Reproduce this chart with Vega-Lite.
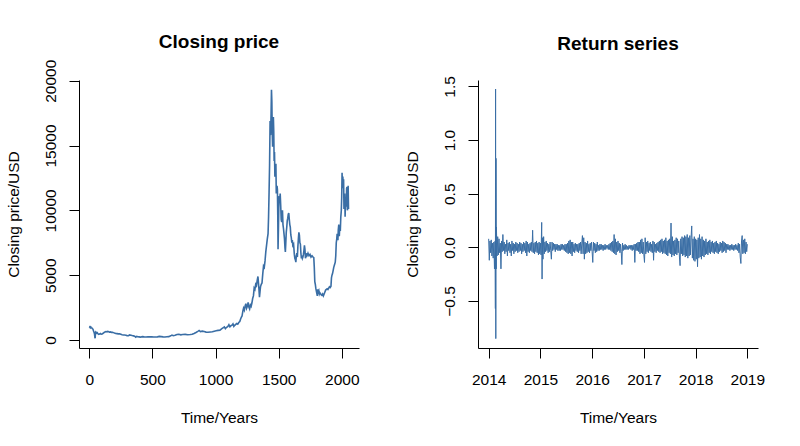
{
"$schema":"https://vega.github.io/schema/vega-lite/v6.json",
"background":"white",
"padding":{"left":6,"top":33,"right":5,"bottom":5},
"spacing":119,
"bounds":"flush",
"config":{
"view":{"stroke":null},
"font":"Liberation Sans",
"axis":{"grid":false,"domainColor":"#000","domainWidth":1,"tickColor":"#000","tickWidth":1,"tickSize":10,"labelColor":"#000","labelFont":"Liberation Sans","labelFontSize":15.5,"labelPadding":14,"labelFlush":false,"labelOverlap":false,"titleColor":"#000","titleFont":"Liberation Sans","titleFontSize":15.5,"titleFontWeight":"normal"},
"axisX":{"labelAngle":0,"labelBaseline":"top","labelAlign":"center","titleX":140,"titleY":74,"titleBaseline":"alphabetic","titleAlign":"center"},
"axisY":{"labelAngle":270,"labelAlign":"center","labelBaseline":"alphabetic","titleAngle":270,"titleX":-61,"titleY":134,"titleBaseline":"alphabetic","titleAlign":"center"},
"title":{"font":"Liberation Sans","fontSize":19,"fontWeight":"bold","color":"#000","baseline":"alphabetic","frame":"group","anchor":"middle"}
},
"datasets":{
"price":[
{"i":1,"p":950},{"i":4,"p":1000},{"i":8,"p":940},{"i":12,"p":1010},{"i":16,"p":960},{"i":20,"p":930},{"i":25,"p":880},{"i":30,"p":820},{"i":34,"p":700},{"i":38,"p":600},{"i":42,"p":450},{"i":45,"p":180},{"i":47,"p":140},{"i":49,"p":560},{"i":52,"p":620},{"i":56,"p":580},{"i":60,"p":520},{"i":64,"p":560},{"i":70,"p":470},{"i":76,"p":440},{"i":82,"p":460},{"i":88,"p":500},{"i":95,"p":450},{"i":102,"p":470},{"i":110,"p":520},{"i":118,"p":580},{"i":125,"p":620},{"i":132,"p":650},{"i":140,"p":630},{"i":147,"p":660},{"i":154,"p":640},{"i":160,"p":600},{"i":168,"p":620},{"i":176,"p":590},{"i":184,"p":600},{"i":192,"p":570},{"i":200,"p":530},{"i":210,"p":500},{"i":220,"p":490},{"i":230,"p":470},{"i":240,"p":480},{"i":250,"p":440},{"i":260,"p":400},{"i":270,"p":390},{"i":280,"p":380},{"i":290,"p":370},{"i":300,"p":340},{"i":310,"p":330},{"i":320,"p":390},{"i":330,"p":370},{"i":340,"p":340},{"i":350,"p":320},{"i":360,"p":300},{"i":368,"p":220},{"i":376,"p":280},{"i":385,"p":250},{"i":395,"p":240},{"i":405,"p":220},{"i":420,"p":260},{"i":435,"p":240},{"i":450,"p":230},{"i":465,"p":240},{"i":480,"p":250},{"i":495,"p":240},{"i":510,"p":230},{"i":525,"p":235},{"i":540,"p":240},{"i":555,"p":280},{"i":570,"p":260},{"i":585,"p":240},{"i":600,"p":230},{"i":615,"p":250},{"i":630,"p":260},{"i":645,"p":320},{"i":655,"p":380},{"i":665,"p":330},{"i":680,"p":360},{"i":695,"p":420},{"i":710,"p":440},{"i":725,"p":400},{"i":740,"p":420},{"i":760,"p":430},{"i":780,"p":410},{"i":800,"p":420},{"i":815,"p":440},{"i":830,"p":500},{"i":845,"p":580},{"i":860,"p":670},{"i":870,"p":740},{"i":880,"p":650},{"i":895,"p":680},{"i":910,"p":650},{"i":925,"p":610},{"i":940,"p":600},{"i":960,"p":620},{"i":975,"p":630},{"i":990,"p":680},{"i":1005,"p":710},{"i":1020,"p":740},{"i":1035,"p":760},{"i":1050,"p":880},{"i":1062,"p":960},{"i":1070,"p":1010},{"i":1078,"p":880},{"i":1088,"p":980},{"i":1098,"p":1050},{"i":1106,"p":1180},{"i":1114,"p":1020},{"i":1122,"p":1100},{"i":1130,"p":1140},{"i":1138,"p":1240},{"i":1145,"p":1050},{"i":1152,"p":1130},{"i":1160,"p":1200},{"i":1168,"p":1270},{"i":1176,"p":1220},{"i":1184,"p":1350},{"i":1192,"p":1420},{"i":1198,"p":1600},{"i":1204,"p":1750},{"i":1210,"p":1850},{"i":1216,"p":2200},{"i":1222,"p":2450},{"i":1228,"p":2300},{"i":1234,"p":2600},{"i":1240,"p":2800},{"i":1246,"p":2450},{"i":1252,"p":2600},{"i":1258,"p":2900},{"i":1264,"p":2550},{"i":1270,"p":2400},{"i":1276,"p":2700},{"i":1282,"p":2600},{"i":1288,"p":2850},{"i":1294,"p":3200},{"i":1300,"p":3400},{"i":1306,"p":4000},{"i":1312,"p":3900},{"i":1318,"p":4300},{"i":1324,"p":4200},{"i":1330,"p":4600},{"i":1336,"p":4900},{"i":1340,"p":4400},{"i":1344,"p":3900},{"i":1348,"p":3300},{"i":1352,"p":3700},{"i":1356,"p":4100},{"i":1362,"p":4300},{"i":1368,"p":4400},{"i":1374,"p":5100},{"i":1380,"p":5700},{"i":1386,"p":5600},{"i":1392,"p":6100},{"i":1398,"p":6800},{"i":1404,"p":7300},{"i":1410,"p":7800},{"i":1416,"p":8200},{"i":1420,"p":9500},{"i":1424,"p":11400},{"i":1428,"p":13500},{"i":1432,"p":16900},{"i":1436,"p":15800},{"i":1440,"p":17500},{"i":1443,"p":19300},{"i":1446,"p":18400},{"i":1449,"p":16000},{"i":1452,"p":14900},{"i":1455,"p":15900},{"i":1458,"p":17200},{"i":1461,"p":16100},{"i":1464,"p":13800},{"i":1467,"p":14500},{"i":1470,"p":12600},{"i":1474,"p":13300},{"i":1478,"p":13600},{"i":1481,"p":11300},{"i":1484,"p":11500},{"i":1487,"p":11900},{"i":1490,"p":11600},{"i":1493,"p":9500},{"i":1495,"p":7000},{"i":1498,"p":8500},{"i":1501,"p":10200},{"i":1504,"p":11100},{"i":1508,"p":10800},{"i":1512,"p":11300},{"i":1516,"p":10400},{"i":1520,"p":9300},{"i":1524,"p":9100},{"i":1527,"p":9900},{"i":1530,"p":10000},{"i":1534,"p":8900},{"i":1538,"p":8600},{"i":1542,"p":8200},{"i":1546,"p":7800},{"i":1550,"p":7100},{"i":1553,"p":6800},{"i":1556,"p":7400},{"i":1560,"p":8300},{"i":1564,"p":8700},{"i":1568,"p":9200},{"i":1572,"p":9400},{"i":1576,"p":9700},{"i":1580,"p":9800},{"i":1584,"p":9300},{"i":1588,"p":8900},{"i":1592,"p":8700},{"i":1596,"p":8100},{"i":1600,"p":7900},{"i":1604,"p":7500},{"i":1608,"p":7700},{"i":1612,"p":7300},{"i":1618,"p":7400},{"i":1624,"p":6600},{"i":1628,"p":6300},{"i":1632,"p":6200},{"i":1636,"p":6000},{"i":1640,"p":6500},{"i":1644,"p":6700},{"i":1648,"p":6400},{"i":1652,"p":7200},{"i":1656,"p":7800},{"i":1660,"p":8300},{"i":1664,"p":8100},{"i":1668,"p":7500},{"i":1672,"p":7400},{"i":1676,"p":6700},{"i":1680,"p":6300},{"i":1684,"p":6500},{"i":1688,"p":6300},{"i":1692,"p":6400},{"i":1696,"p":6600},{"i":1700,"p":6900},{"i":1704,"p":7300},{"i":1708,"p":7000},{"i":1712,"p":6300},{"i":1716,"p":6500},{"i":1720,"p":6400},{"i":1724,"p":6700},{"i":1728,"p":6600},{"i":1732,"p":6700},{"i":1740,"p":6500},{"i":1748,"p":6600},{"i":1756,"p":6400},{"i":1764,"p":6500},{"i":1772,"p":6400},{"i":1778,"p":6350},{"i":1782,"p":5600},{"i":1786,"p":4500},{"i":1790,"p":4300},{"i":1794,"p":4000},{"i":1798,"p":3800},{"i":1802,"p":3600},{"i":1806,"p":3400},{"i":1810,"p":3900},{"i":1814,"p":3700},{"i":1818,"p":3800},{"i":1822,"p":3550},{"i":1826,"p":3650},{"i":1830,"p":3600},{"i":1836,"p":3500},{"i":1842,"p":3450},{"i":1848,"p":3550},{"i":1854,"p":3400},{"i":1860,"p":3550},{"i":1866,"p":3700},{"i":1872,"p":3850},{"i":1878,"p":3900},{"i":1884,"p":3950},{"i":1890,"p":3900},{"i":1896,"p":4000},{"i":1902,"p":4100},{"i":1908,"p":4050},{"i":1914,"p":4150},{"i":1918,"p":4800},{"i":1922,"p":5000},{"i":1926,"p":5100},{"i":1930,"p":5300},{"i":1936,"p":5600},{"i":1942,"p":5800},{"i":1948,"p":6000},{"i":1952,"p":6500},{"i":1956,"p":7500},{"i":1960,"p":7800},{"i":1963,"p":8200},{"i":1966,"p":8000},{"i":1969,"p":7700},{"i":1972,"p":8500},{"i":1976,"p":8900},{"i":1980,"p":8000},{"i":1984,"p":8800},{"i":1988,"p":8400},{"i":1992,"p":9500},{"i":1996,"p":10000},{"i":1999,"p":11000},{"i":2002,"p":12900},{"i":2005,"p":11700},{"i":2008,"p":12600},{"i":2011,"p":11900},{"i":2014,"p":12400},{"i":2017,"p":10100},{"i":2020,"p":10800},{"i":2023,"p":11300},{"i":2026,"p":9500},{"i":2029,"p":10600},{"i":2032,"p":10300},{"i":2035,"p":10400},{"i":2038,"p":11700},{"i":2041,"p":11800},{"i":2044,"p":10000},{"i":2047,"p":10200},{"i":2050,"p":11900},{"i":2053,"p":10100}
],
"ret":[
{"t":2014.0,"r":0.08},{"t":2014.0125,"r":-0.12},{"t":2014.025,"r":0.06},{"t":2014.0375,"r":-0.05},{"t":2014.05,"r":0.07},{"t":2014.0625,"r":-0.08},{"t":2014.075,"r":0.04},{"t":2014.0875,"r":-0.1},{"t":2014.1,"r":0.05},{"t":2014.1125,"r":-0.2},{"t":2014.125,"r":0.06},{"t":2014.13,"r":-0.57},{"t":2014.134,"r":1.476},{"t":2014.138,"r":-0.85},{"t":2014.142,"r":0.83},{"t":2014.146,"r":-0.2},{"t":2014.15,"r":0.19},{"t":2014.1625,"r":-0.08},{"t":2014.175,"r":0.1},{"t":2014.1875,"r":-0.07},{"t":2014.2,"r":0.08},
{"t":2014.2125,"r":-0.05},{"t":2014.225,"r":0.04},{"t":2014.2375,"r":-0.2},{"t":2014.25,"r":0.06},{"t":2014.2625,"r":-0.04},{"t":2014.275,"r":0.12},{"t":2014.2875,"r":-0.03},{"t":2014.3,"r":0.05},
{"t":2014.3125,"r":-0.06},{"t":2014.325,"r":0.03},{"t":2014.3375,"r":-0.04},{"t":2014.35,"r":0.07},{"t":2014.3625,"r":-0.08},{"t":2014.375,"r":0.04},{"t":2014.3875,"r":-0.03},{"t":2014.4,"r":0.05},
{"t":2014.4125,"r":-0.05},{"t":2014.425,"r":0.03},{"t":2014.4375,"r":-0.08},{"t":2014.45,"r":0.06},{"t":2014.4625,"r":-0.03},{"t":2014.475,"r":0.04},{"t":2014.4875,"r":-0.06},{"t":2014.5,"r":0.03},
{"t":2014.5125,"r":-0.04},{"t":2014.525,"r":0.05},{"t":2014.5375,"r":-0.03},{"t":2014.55,"r":0.04},{"t":2014.5625,"r":-0.05},{"t":2014.575,"r":0.03},{"t":2014.5875,"r":-0.04},{"t":2014.6,"r":0.05},
{"t":2014.6125,"r":-0.03},{"t":2014.625,"r":0.04},{"t":2014.6375,"r":-0.06},{"t":2014.65,"r":0.03},{"t":2014.6625,"r":-0.04},{"t":2014.675,"r":0.05},{"t":2014.6875,"r":-0.03},{"t":2014.7,"r":0.04},
{"t":2014.7125,"r":-0.05},{"t":2014.725,"r":0.06},{"t":2014.7375,"r":-0.08},{"t":2014.75,"r":0.05},{"t":2014.7625,"r":-0.04},{"t":2014.775,"r":0.03},{"t":2014.7875,"r":-0.05},{"t":2014.8,"r":0.04},
{"t":2014.8125,"r":-0.03},{"t":2014.825,"r":0.05},{"t":2014.8375,"r":-0.04},{"t":2014.85,"r":0.16},{"t":2014.8625,"r":-0.05},{"t":2014.875,"r":0.04},{"t":2014.8875,"r":-0.06},{"t":2014.9,"r":0.05},
{"t":2014.9125,"r":-0.04},{"t":2014.925,"r":0.06},{"t":2014.9375,"r":-0.05},{"t":2014.95,"r":0.04},{"t":2014.9625,"r":-0.07},{"t":2014.975,"r":0.05},{"t":2014.9875,"r":-0.06},{"t":2015.0,"r":0.04},
{"t":2015.0125,"r":-0.07},{"t":2015.025,"r":0.233},{"t":2015.0325,"r":-0.295},{"t":2015.04,"r":0.09},{"t":2015.05,"r":-0.11},{"t":2015.0625,"r":0.1},{"t":2015.075,"r":-0.06},{"t":2015.0875,"r":0.05},{"t":2015.1,"r":-0.04},
{"t":2015.1125,"r":0.06},{"t":2015.125,"r":-0.03},{"t":2015.1375,"r":0.04},{"t":2015.15,"r":-0.05},{"t":2015.1625,"r":0.03},{"t":2015.175,"r":-0.04},{"t":2015.1875,"r":0.05},{"t":2015.2,"r":-0.03},
{"t":2015.2125,"r":-0.11},{"t":2015.225,"r":0.05},{"t":2015.2375,"r":-0.03},{"t":2015.25,"r":0.04},{"t":2015.2625,"r":-0.02},{"t":2015.275,"r":0.03},{"t":2015.2875,"r":-0.04},{"t":2015.3,"r":0.03},
{"t":2015.3125,"r":-0.02},{"t":2015.325,"r":0.03},{"t":2015.3375,"r":-0.03},{"t":2015.35,"r":0.02},{"t":2015.3625,"r":-0.03},{"t":2015.375,"r":0.02},{"t":2015.3875,"r":-0.03},{"t":2015.4,"r":0.03},
{"t":2015.4125,"r":-0.02},{"t":2015.425,"r":0.03},{"t":2015.4375,"r":-0.02},{"t":2015.45,"r":0.02},{"t":2015.4625,"r":-0.03},{"t":2015.475,"r":0.03},{"t":2015.4875,"r":-0.04},{"t":2015.5,"r":0.03},
{"t":2015.5125,"r":-0.05},{"t":2015.525,"r":0.04},{"t":2015.5375,"r":-0.06},{"t":2015.55,"r":0.06},{"t":2015.5625,"r":-0.05},{"t":2015.575,"r":0.07},{"t":2015.5875,"r":-0.06},{"t":2015.6,"r":0.05},
{"t":2015.6125,"r":-0.08},{"t":2015.625,"r":0.05},{"t":2015.6375,"r":-0.04},{"t":2015.65,"r":0.03},{"t":2015.6625,"r":-0.05},{"t":2015.675,"r":0.04},{"t":2015.6875,"r":-0.03},{"t":2015.7,"r":0.03},
{"t":2015.7125,"r":-0.04},{"t":2015.725,"r":0.03},{"t":2015.7375,"r":-0.05},{"t":2015.75,"r":0.04},{"t":2015.7625,"r":-0.03},{"t":2015.775,"r":0.05},{"t":2015.7875,"r":-0.06},{"t":2015.8,"r":0.04},
{"t":2015.8125,"r":0.11},{"t":2015.825,"r":-0.06},{"t":2015.8375,"r":0.09},{"t":2015.85,"r":-0.11},{"t":2015.8625,"r":0.05},{"t":2015.875,"r":-0.06},{"t":2015.8875,"r":0.04},{"t":2015.9,"r":-0.05},
{"t":2015.9125,"r":0.06},{"t":2015.925,"r":-0.04},{"t":2015.9375,"r":0.03},{"t":2015.95,"r":-0.05},{"t":2015.9625,"r":0.04},{"t":2015.975,"r":-0.03},{"t":2015.9875,"r":0.05},{"t":2016.0,"r":-0.04},
{"t":2016.0125,"r":-0.14},{"t":2016.025,"r":0.05},{"t":2016.0375,"r":-0.03},{"t":2016.05,"r":0.04},{"t":2016.0625,"r":-0.05},{"t":2016.075,"r":0.03},{"t":2016.0875,"r":-0.04},{"t":2016.1,"r":0.05},
{"t":2016.1125,"r":-0.03},{"t":2016.125,"r":0.02},{"t":2016.1375,"r":-0.03},{"t":2016.15,"r":0.03},{"t":2016.1625,"r":-0.02},{"t":2016.175,"r":0.03},{"t":2016.1875,"r":-0.02},{"t":2016.2,"r":0.02},
{"t":2016.2125,"r":-0.03},{"t":2016.225,"r":0.02},{"t":2016.2375,"r":-0.02},{"t":2016.25,"r":0.03},{"t":2016.2625,"r":-0.02},{"t":2016.275,"r":0.02},{"t":2016.2875,"r":-0.01},{"t":2016.3,"r":0.02},
{"t":2016.3125,"r":-0.02},{"t":2016.325,"r":0.03},{"t":2016.3375,"r":-0.02},{"t":2016.35,"r":0.04},{"t":2016.3625,"r":-0.03},{"t":2016.375,"r":0.05},{"t":2016.3875,"r":-0.04},{"t":2016.4,"r":0.06},
{"t":2016.4125,"r":-0.05},{"t":2016.425,"r":0.12},{"t":2016.4375,"r":-0.06},{"t":2016.45,"r":0.08},{"t":2016.4625,"r":-0.07},{"t":2016.475,"r":0.05},{"t":2016.4875,"r":-0.04},{"t":2016.5,"r":0.06},
{"t":2016.5125,"r":-0.03},{"t":2016.525,"r":0.04},{"t":2016.5375,"r":-0.05},{"t":2016.55,"r":0.03},{"t":2016.5625,"r":-0.04},{"t":2016.575,"r":-0.16},{"t":2016.5875,"r":0.04},{"t":2016.6,"r":-0.03},
{"t":2016.6125,"r":0.02},{"t":2016.625,"r":-0.02},{"t":2016.6375,"r":0.03},{"t":2016.65,"r":-0.02},{"t":2016.6625,"r":0.02},{"t":2016.675,"r":-0.02},{"t":2016.6875,"r":0.01},{"t":2016.7,"r":-0.02},
{"t":2016.7125,"r":0.02},{"t":2016.725,"r":-0.01},{"t":2016.7375,"r":0.02},{"t":2016.75,"r":-0.02},{"t":2016.7625,"r":0.02},{"t":2016.775,"r":-0.03},{"t":2016.7875,"r":0.02},{"t":2016.8,"r":-0.02},
{"t":2016.8125,"r":0.03},{"t":2016.825,"r":-0.14},{"t":2016.8375,"r":0.03},{"t":2016.85,"r":-0.03},{"t":2016.8625,"r":0.04},{"t":2016.875,"r":-0.03},{"t":2016.8875,"r":0.05},{"t":2016.9,"r":-0.04},
{"t":2016.9125,"r":0.05},{"t":2016.925,"r":-0.06},{"t":2016.9375,"r":0.07},{"t":2016.95,"r":-0.05},{"t":2016.9625,"r":0.08},{"t":2016.975,"r":-0.06},{"t":2016.9875,"r":0.05},{"t":2017.0,"r":-0.07},
{"t":2017.0125,"r":-0.14},{"t":2017.025,"r":0.09},{"t":2017.0375,"r":-0.06},{"t":2017.05,"r":0.05},{"t":2017.0625,"r":-0.04},{"t":2017.075,"r":0.06},{"t":2017.0875,"r":-0.05},{"t":2017.1,"r":0.04},
{"t":2017.1125,"r":-0.03},{"t":2017.125,"r":0.05},{"t":2017.1375,"r":-0.04},{"t":2017.15,"r":0.03},{"t":2017.1625,"r":-0.05},{"t":2017.175,"r":0.06},{"t":2017.1875,"r":-0.12},{"t":2017.2,"r":0.05},
{"t":2017.2125,"r":-0.04},{"t":2017.225,"r":0.03},{"t":2017.2375,"r":-0.05},{"t":2017.25,"r":0.04},{"t":2017.2625,"r":-0.03},{"t":2017.275,"r":0.05},{"t":2017.2875,"r":-0.04},{"t":2017.3,"r":0.06},
{"t":2017.3125,"r":-0.05},{"t":2017.325,"r":0.07},{"t":2017.3375,"r":-0.04},{"t":2017.35,"r":0.08},{"t":2017.3625,"r":-0.06},{"t":2017.375,"r":0.06},{"t":2017.3875,"r":-0.05},{"t":2017.4,"r":0.07},
{"t":2017.4125,"r":-0.06},{"t":2017.425,"r":0.09},{"t":2017.4375,"r":-0.07},{"t":2017.45,"r":0.06},{"t":2017.4625,"r":-0.08},{"t":2017.475,"r":0.07},{"t":2017.4875,"r":-0.05},{"t":2017.5,"r":0.08},
{"t":2017.5125,"r":-0.06},{"t":2017.525,"r":0.227},{"t":2017.5375,"r":-0.09},{"t":2017.55,"r":0.1},{"t":2017.5625,"r":-0.07},{"t":2017.575,"r":0.06},{"t":2017.5875,"r":-0.08},{"t":2017.6,"r":0.07},
{"t":2017.6125,"r":-0.06},{"t":2017.625,"r":0.09},{"t":2017.6375,"r":-0.07},{"t":2017.65,"r":0.08},{"t":2017.6625,"r":-0.05},{"t":2017.675,"r":0.06},{"t":2017.6875,"r":-0.09},{"t":2017.7,"r":-0.17},
{"t":2017.7125,"r":0.08},{"t":2017.725,"r":-0.06},{"t":2017.7375,"r":0.1},{"t":2017.75,"r":-0.08},{"t":2017.7625,"r":0.09},{"t":2017.775,"r":-0.07},{"t":2017.7875,"r":0.11},{"t":2017.8,"r":-0.09},
{"t":2017.8125,"r":0.1},{"t":2017.825,"r":-0.08},{"t":2017.8375,"r":0.12},{"t":2017.85,"r":-0.1},{"t":2017.8625,"r":0.09},{"t":2017.875,"r":-0.08},{"t":2017.8875,"r":0.11},{"t":2017.9,"r":-0.07},
{"t":2017.9125,"r":0.09},{"t":2017.925,"r":0.2},{"t":2017.9375,"r":-0.1},{"t":2017.95,"r":0.08},{"t":2017.9625,"r":-0.12},{"t":2017.975,"r":0.1},{"t":2017.9875,"r":-0.13},{"t":2018.0,"r":0.08},
{"t":2018.0125,"r":-0.11},{"t":2018.025,"r":0.07},{"t":2018.0375,"r":-0.18},{"t":2018.05,"r":0.09},{"t":2018.0625,"r":-0.1},{"t":2018.075,"r":0.12},{"t":2018.0875,"r":-0.09},{"t":2018.1,"r":0.08},
{"t":2018.1125,"r":-0.11},{"t":2018.125,"r":0.1},{"t":2018.1375,"r":-0.08},{"t":2018.15,"r":0.07},{"t":2018.1625,"r":-0.09},{"t":2018.175,"r":0.06},{"t":2018.1875,"r":-0.07},{"t":2018.2,"r":0.08},
{"t":2018.2125,"r":-0.06},{"t":2018.225,"r":0.05},{"t":2018.2375,"r":-0.07},{"t":2018.25,"r":0.06},{"t":2018.2625,"r":-0.05},{"t":2018.275,"r":0.07},{"t":2018.2875,"r":-0.06},{"t":2018.3,"r":0.05},
{"t":2018.3125,"r":-0.04},{"t":2018.325,"r":0.06},{"t":2018.3375,"r":-0.05},{"t":2018.35,"r":0.04},{"t":2018.3625,"r":-0.06},{"t":2018.375,"r":0.05},{"t":2018.3875,"r":-0.04},{"t":2018.4,"r":0.06},
{"t":2018.4125,"r":-0.05},{"t":2018.425,"r":0.04},{"t":2018.4375,"r":-0.06},{"t":2018.45,"r":0.03},{"t":2018.4625,"r":-0.04},{"t":2018.475,"r":0.05},{"t":2018.4875,"r":-0.03},{"t":2018.5,"r":0.04},
{"t":2018.5125,"r":-0.05},{"t":2018.525,"r":0.06},{"t":2018.5375,"r":-0.04},{"t":2018.55,"r":0.05},{"t":2018.5625,"r":-0.03},{"t":2018.575,"r":0.04},{"t":2018.5875,"r":-0.05},{"t":2018.6,"r":0.03},
{"t":2018.6125,"r":-0.02},{"t":2018.625,"r":0.03},{"t":2018.6375,"r":-0.02},{"t":2018.65,"r":0.02},{"t":2018.6625,"r":-0.03},{"t":2018.675,"r":0.02},{"t":2018.6875,"r":-0.02},{"t":2018.7,"r":0.03},
{"t":2018.7125,"r":-0.02},{"t":2018.725,"r":0.02},{"t":2018.7375,"r":-0.03},{"t":2018.75,"r":0.02},{"t":2018.7625,"r":-0.02},{"t":2018.775,"r":0.03},{"t":2018.7875,"r":-0.02},{"t":2018.8,"r":0.02},
{"t":2018.8125,"r":-0.03},{"t":2018.825,"r":0.04},{"t":2018.8375,"r":-0.05},{"t":2018.85,"r":0.03},{"t":2018.8625,"r":-0.09},{"t":2018.875,"r":-0.15},{"t":2018.8875,"r":0.06},{"t":2018.9,"r":0.11},
{"t":2018.9125,"r":-0.06},{"t":2018.925,"r":0.07},{"t":2018.9375,"r":-0.05},{"t":2018.95,"r":0.08},{"t":2018.9625,"r":-0.06},{"t":2018.975,"r":0.05},{"t":2018.9875,"r":-0.04},{"t":2019.0,"r":0.03}
]
},
"hconcat":[
{"width":280,"height":268,"title":{"text":"Closing price","offset":7},"data":{"name":"price"},
"mark":{"type":"line","color":"#3a6ea5","strokeWidth":1.6},
"encoding":{
"x":{"field":"i","type":"quantitative","scale":{"domain":[-81,2136],"nice":false,"zero":false},"axis":{"title":"Time/Years","values":[0,500,1000,1500,2000],"format":"d"}},
"y":{"field":"p","type":"quantitative","scale":{"domain":[-617,20054],"nice":false,"zero":false},"axis":{"title":"Closing price/USD","values":[0,5000,10000,15000,20000],"format":"d"}}}},
{"width":280,"height":268,"title":{"text":"Return series","offset":22},"data":{"name":"ret"},
"mark":{"type":"line","color":"#3a6ea5","strokeWidth":1},
"encoding":{
"x":{"field":"t","type":"quantitative","scale":{"domain":[2013.794,2019.206],"nice":false,"zero":false},"axis":{"title":"Time/Years","values":[2014,2015,2016,2017,2018,2019],"format":"d"}},
"y":{"field":"r","type":"quantitative","scale":{"domain":[-0.9375,1.56],"nice":false,"zero":false},"axis":{"title":"Closing price/USD","values":[-0.5,0,0.5,1,1.5],"format":".1f"}}}}
]
}
